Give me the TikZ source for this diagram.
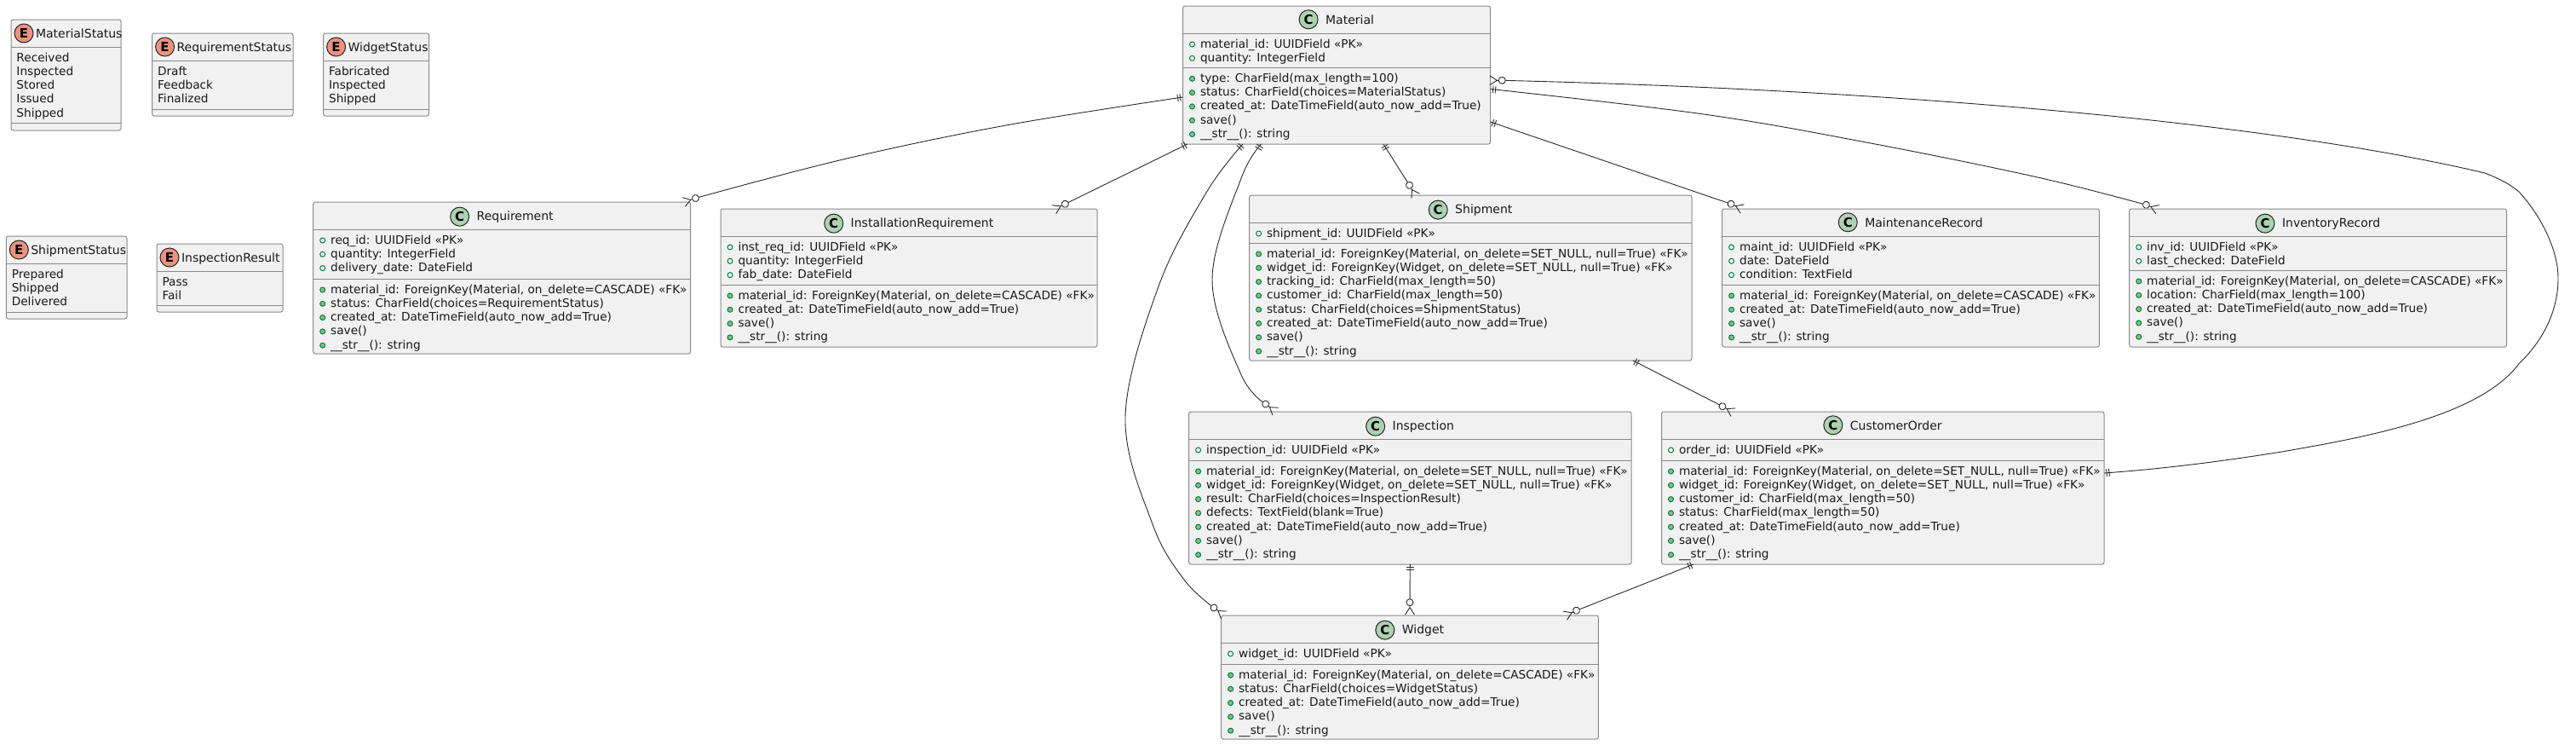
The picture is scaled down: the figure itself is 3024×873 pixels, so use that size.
\documentclass[tikz,border=0pt]{standalone}
\usepackage{fontspec}
\setmainfont{DejaVu Sans}
\usetikzlibrary{calc}
\definecolor{boxfill}{HTML}{F1F1F1}
\definecolor{boxline}{HTML}{8A8A8A}
\definecolor{connline}{HTML}{2A2A2A}
\definecolor{spotC}{HTML}{ADD1B2}
\definecolor{spotE}{HTML}{EB937F}
\definecolor{markline}{HTML}{038048}
\definecolor{markfill}{HTML}{84BE84}
\tikzset{
  umlbox/.style={draw=boxline,fill=boxfill,line width=1pt,rounded corners=2.5pt,anchor=north west,inner sep=0pt,outer sep=0pt},
  sepline/.style={draw=boxline,line width=1pt},
  titletext/.style={font=\fontsize{14}{16}\selectfont,inner sep=0pt,outer sep=0pt,anchor=base,text=black!90},
  etitletext/.style={titletext,anchor=base west},
  rowtext/.style={font=\fontsize{13.65}{16}\selectfont,inner sep=0pt,outer sep=0pt,anchor=base west,text=black!90},
  spot/.style={circle,draw=black!85,line width=1pt,minimum size=22pt,inner sep=0pt,font=\fontsize{15}{15}\selectfont\bfseries,text=black},
  fieldmark/.style={draw=markline,line width=1pt},
  methodmark/.style={draw=markline,fill=markfill,line width=1pt},
  conn/.style={draw=connline,line width=0.9pt},
}
\newcount\umlrow
\newcount\umlname
\newcommand{\umlframe}[5]{% name x1 y1 x2 y2
  \def\bn{#1}\def\bxa{#2}\def\bxb{#4}\def\bya{#3}
  \pgfmathsetmacro\bw{#4-#2}\pgfmathsetmacro\bh{#5-#3}
  \node[umlbox,minimum width=\bw pt,minimum height=\bh pt] (#1) at (#2,#3) {};
  \draw[sepline] ($(#1.north west)+(0,32)$) -- ($(#1.north east)+(0,32)$);
  \pgfmathsetmacro\secT{#3+32}\umlrow=0 \umlname=0
}
\newcommand{\classbox}[6]{% name title x1 y1 x2 y2
  \umlframe{#1}{#3}{#4}{#5}{#6}
  \pgfmathsetmacro\tx{(#3+#5)/2+15.5}\pgfmathsetmacro\ty{#4+21}
  \node[titletext] (#1-title) at (\tx,\ty) {#2};
  \node[spot,fill=spotC] (#1-spot) at ($(#1-title.west)+(-20,0)$) {C};
}
\newcommand{\enumbox}[6]{% name title x1 y1 x2 y2
  \umlframe{#1}{#3}{#4}{#5}{#6}
  \pgfmathsetmacro\tx{#3+29}\pgfmathsetmacro\ty{#4+21}
  \pgfmathsetmacro\sx{#3+15}\pgfmathsetmacro\sy{#4+16}
  \node[etitletext] (#1-title) at (\tx,\ty) {#2};
  \node[spot,fill=spotE] (#1-spot) at (\sx,\sy) {E};
}
\newcommand{\umlsep}[1]{%
  \draw[sepline] (\bxa,#1) -- (\bxb,#1);
  \def\secT{#1}\umlrow=0
}
\newcommand{\placerow}{%
  \pgfmathsetmacro\ry{\secT+17+16.3*\umlrow}
  \pgfmathsetmacro\my{\secT+13+16.3*\umlrow}
  \pgfmathsetmacro\rx{\bxa+20.5}
  \pgfmathsetmacro\mx{\bxa+11}
  \advance\umlrow by 1 \advance\umlname by 1
}
\newcommand{\frow}[1]{\placerow
  \draw[fieldmark] (\mx,\my) circle[radius=3pt];
  \node[rowtext] (\bn-r\the\umlname) at (\rx,\ry) {#1};}
\newcommand{\mrow}[1]{\placerow
  \draw[methodmark] (\mx,\my) circle[radius=3pt];
  \node[rowtext] (\bn-r\the\umlname) at (\rx,\ry) {#1};}
\newcommand{\erow}[1]{\placerow
  \pgfmathsetmacro\rx{\bxa+6.5}
  \node[rowtext] (\bn-r\the\umlname) at (\rx,\ry) {#1};}
\newcommand{\crow}[2]{%
  \begin{scope}[shift={(#1)},rotate=#2]
    \draw[conn] (0,0) -- (6,0) (14.5,5.5) -- (6,0) -- (14.5,-5.5);
    \draw[conn,fill=white] (0,0) circle[radius=4pt];
  \end{scope}}
\newcommand{\bars}[2]{%
  \begin{scope}[shift={(#1)},rotate=#2]
    \draw[conn] (3,-4.3) -- (3,4.3) (6,-4.3) -- (6,4.3);
  \end{scope}}
\begin{document}
\begin{tikzpicture}[x=1pt,y=-1pt]
\useasboundingbox (0,0) rectangle (3024,873);
% enums
\enumbox{matstat}{MaterialStatus}{13}{23}{142}{153}
\erow{Received}\erow{Inspected}\erow{Stored}\erow{Issued}\erow{Shipped}
\umlsep{144}
\enumbox{reqstat}{RequirementStatus}{178.6}{39}{344}{136}
\erow{Draft}\erow{Feedback}\erow{Finalized}
\umlsep{128}
\enumbox{widstat}{WidgetStatus}{379.6}{39}{503.6}{136}
\erow{Fabricated}\erow{Inspected}\erow{Shipped}
\umlsep{128}
\enumbox{shipstat}{ShipmentStatus}{7.3}{277}{149}{374}
\erow{Prepared}\erow{Shipped}\erow{Delivered}
\umlsep{366}
\enumbox{inspres}{InspectionResult}{184}{286}{332}{366}
\erow{Pass}\erow{Fail}
\umlsep{358}
% classes
\classbox{material}{Material}{1388.5}{7}{1749.6}{169}
\frow{material\_id: UUIDField «PK»}\frow{quantity: IntegerField}
\umlsep{79.3}
\mrow{type: CharField(max\_length=100)}\mrow{status: CharField(choices=MaterialStatus)}
\mrow{created\_at: DateTimeField(auto\_now\_add=True)}\mrow{save()}\mrow{\_\_str\_\_(): string}

\classbox{requirement}{Requirement}{367.7}{237}{810.6}{415}
\frow{req\_id: UUIDField «PK»}\frow{quantity: IntegerField}\frow{delivery\_date: DateField}
\umlsep{327}
\mrow{material\_id: ForeignKey(Material, on\_delete=CASCADE) «FK»}\mrow{status: CharField(choices=RequirementStatus)}
\mrow{created\_at: DateTimeField(auto\_now\_add=True)}\mrow{save()}\mrow{\_\_str\_\_(): string}

\classbox{install}{InstallationRequirement}{846}{245}{1288}{407}
\frow{inst\_req\_id: UUIDField «PK»}\frow{quantity: IntegerField}\frow{fab\_date: DateField}
\umlsep{334}
\mrow{material\_id: ForeignKey(Material, on\_delete=CASCADE) «FK»}
\mrow{created\_at: DateTimeField(auto\_now\_add=True)}\mrow{save()}\mrow{\_\_str\_\_(): string}

\classbox{shipment}{Shipment}{1466.6}{229}{1986}{423}
\frow{shipment\_id: UUIDField «PK»}
\umlsep{285}
\mrow{material\_id: ForeignKey(Material, on\_delete=SET\_NULL, null=True) «FK»}
\mrow{widget\_id: ForeignKey(Widget, on\_delete=SET\_NULL, null=True) «FK»}
\mrow{tracking\_id: CharField(max\_length=50)}\mrow{customer\_id: CharField(max\_length=50)}
\mrow{status: CharField(choices=ShipmentStatus)}
\mrow{created\_at: DateTimeField(auto\_now\_add=True)}\mrow{save()}\mrow{\_\_str\_\_(): string}

\classbox{maint}{MaintenanceRecord}{2021.6}{245}{2464.4}{407}
\frow{maint\_id: UUIDField «PK»}\frow{date: DateField}\frow{condition: TextField}
\umlsep{334}
\mrow{material\_id: ForeignKey(Material, on\_delete=CASCADE) «FK»}
\mrow{created\_at: DateTimeField(auto\_now\_add=True)}\mrow{save()}\mrow{\_\_str\_\_(): string}

\classbox{inventory}{InventoryRecord}{2499.7}{245}{2942.5}{407}
\frow{inv\_id: UUIDField «PK»}\frow{last\_checked: DateField}
\umlsep{317}
\mrow{material\_id: ForeignKey(Material, on\_delete=CASCADE) «FK»}
\mrow{location: CharField(max\_length=100)}
\mrow{created\_at: DateTimeField(auto\_now\_add=True)}\mrow{save()}\mrow{\_\_str\_\_(): string}

\classbox{inspection}{Inspection}{1395.6}{483}{1915}{662}
\frow{inspection\_id: UUIDField «PK»}
\umlsep{540}
\mrow{material\_id: ForeignKey(Material, on\_delete=SET\_NULL, null=True) «FK»}
\mrow{widget\_id: ForeignKey(Widget, on\_delete=SET\_NULL, null=True) «FK»}
\mrow{result: CharField(choices=InspectionResult)}\mrow{defects: TextField(blank=True)}
\mrow{created\_at: DateTimeField(auto\_now\_add=True)}\mrow{save()}\mrow{\_\_str\_\_(): string}

\classbox{order}{CustomerOrder}{1950.5}{483}{2470}{662}
\frow{order\_id: UUIDField «PK»}
\umlsep{540}
\mrow{material\_id: ForeignKey(Material, on\_delete=SET\_NULL, null=True) «FK»}
\mrow{widget\_id: ForeignKey(Widget, on\_delete=SET\_NULL, null=True) «FK»}
\mrow{customer\_id: CharField(max\_length=50)}\mrow{status: CharField(max\_length=50)}
\mrow{created\_at: DateTimeField(auto\_now\_add=True)}\mrow{save()}\mrow{\_\_str\_\_(): string}

\classbox{widget}{Widget}{1433.6}{722}{1876.4}{867}
\frow{widget\_id: UUIDField «PK»}
\umlsep{779}
\mrow{material\_id: ForeignKey(Material, on\_delete=CASCADE) «FK»}
\mrow{status: CharField(choices=WidgetStatus)}
\mrow{created\_at: DateTimeField(auto\_now\_add=True)}\mrow{save()}\mrow{\_\_str\_\_(): string}

% connector ends
\coordinate (mReq) at ($(material.north west)+(0,107)$);
\coordinate (mInst) at ($(material.south west)+(5.5,0)$);
\coordinate (mWid) at ($(material.south west)+(70.5,0)$);
\coordinate (mIns) at ($(material.south west)+(92,0)$);
\coordinate (mShip) at ($(material.south west)+(235.5,0)$);
\coordinate (mMaint) at ($(material.north east)+(0,136)$);
\coordinate (mInv) at ($(material.north east)+(0,97.5)$);
\coordinate (mOrd) at ($(material.north east)+(13.7,87.3)$);
\coordinate (cReq) at ($(requirement.north east)+(5.9,-4.5)$);
\coordinate (cInst) at ($(install.north west)+(404.4,-5.7)$);
\coordinate (cWidM) at ($(widget.north west)+(-8.6,-9)$);
\coordinate (cIns) at ($(inspection.north west)+(90.1,-9)$);
\coordinate (cShip) at ($(shipment.north west)+(187.9,-11.7)$);
\coordinate (cMaint) at ($(maint.north west)+(10.4,-5.7)$);
\coordinate (cInv) at ($(inventory.north west)+(19.7,-4.7)$);
\coordinate (cOrd) at ($(order.north west)+(71.5,-6.3)$);
\coordinate (cWidO) at ($(widget.north east)+(-25.9,-5.7)$);
\coordinate (cWidI) at ($(widget.north)+(0,-15.3)$);
\coordinate (sOrd) at ($(shipment.south west)+(450.4,0)$);
\coordinate (oMat) at ($(order.north east)+(0,72)$);
\coordinate (oWid) at ($(order.south west)+(37.5,0)$);
% connectors
\draw[conn] plot[smooth,tension=0.6] coordinates {(mReq) (1182.7,146.7) (991,186.7) (cReq)};
\draw[conn] (mInst) -- (cInst);
\draw[conn] plot[smooth,tension=0.6] coordinates {(mWid) (1416.7,225) (1360,336) (1321,489) (1353,615) (1390,680) (cWidM)};
\draw[conn] plot[smooth,tension=0.6] coordinates {(mIns) (1456.7,210) (1423,328) (1456.7,439) (cIns)};
\draw[conn] (mShip) -- (cShip);
\draw[conn] (mMaint) -- (cMaint);
\draw[conn] plot[smooth,tension=0.6] coordinates {(mInv) (2000,134) (2196,168) (2392,208) (cInv)};
\draw[conn] (mOrd) .. controls (2200,105) and (2650,140) .. (2917,203)
  .. controls (2935,210) and (2948,217) .. (2957,225)
  .. controls (2980,250) and (3003,290) .. (3003,326.7)
  .. controls (3003,365) and (2985,400) .. (2957,426.7)
  .. controls (2910,490) and (2770,514) .. (2678.5,530)
  .. controls (2610,541) and (2540,550) .. (oMat);
\draw[conn] (sOrd) -- (cOrd);
\draw[conn] (inspection.south) -- (cWidI);
\draw[conn] (oWid) -- (cWidO);
% end marks
\bars{mReq}{189}\crow{cReq}{198}
\bars{mInst}{205.4}\crow{cInst}{206}
\bars{mWid}{228}\crow{cWidM}{-36}
\bars{mIns}{238}\crow{cIns}{-37}
\bars{mShip}{-60}\crow{cShip}{-60}
\bars{mMaint}{-19}\crow{cMaint}{-23}
\bars{mInv}{-7}\crow{cInv}{-22}
\crow{mOrd}{180}\bars{oMat}{7}
\bars{sOrd}{-28}\crow{cOrd}{-29}
\bars{inspection.south}{-90}\crow{cWidI}{-90}
\bars{oWid}{201.5}\crow{cWidO}{204}
\end{tikzpicture}
\end{document}
